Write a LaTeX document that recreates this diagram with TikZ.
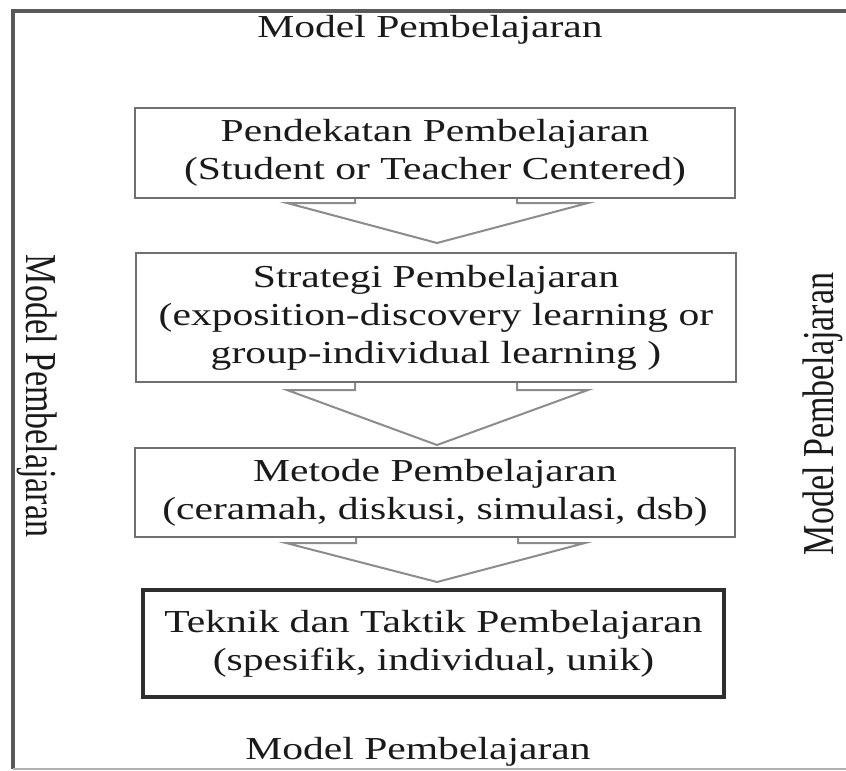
\documentclass[tikz,border=0pt]{standalone}
\usepackage{fontspec}
\setmainfont{Liberation Serif}[FakeStretch=1.3]
\newfontfamily\vfont{Liberation Serif}
\usetikzlibrary{calc}
\definecolor{framecol}{HTML}{5A5A5A}
\definecolor{boxgray}{HTML}{707070}
\definecolor{arrgray}{HTML}{8C8C8C}
\definecolor{darkbox}{HTML}{2E2E2E}
\definecolor{lightline}{HTML}{B0B0B0}
\definecolor{txt}{HTML}{1A1A1A}
\newcommand\btxt{\fontsize{32}{38}\selectfont}
\newcommand\vtxt{\vfont\fontsize{34}{40}\selectfont}
\begin{document}
\begin{tikzpicture}[x=1pt,y=-1pt,
  box/.style={draw=boxgray, line width=2.5pt, minimum width=600pt, align=center,
    inner sep=0pt, outer sep=0pt, font=\btxt, text=txt},
  lastbox/.style={box, draw=darkbox, line width=4pt},
  blockarr/.style={draw=arrgray, line width=2pt, line join=miter},
  label/.style={font=\btxt, text=txt, anchor=base, inner sep=0pt},
  vlabel/.style={font=\vtxt, text=txt, anchor=base, inner sep=0pt}]
\useasboundingbox (0,0) rectangle (846,771);
\fill[white] (0,0) rectangle (846,771);
% outer frame
\draw[framecol, line width=4pt] (13,769) -- (13,11) -- (846,11);
\draw[lightline, line width=2pt] (13,769) -- (846,769);
% labels
\node[label] (top) at (430,37) {Model Pembelajaran};
\node[label] (bottom) at (418,759) {Model Pembelajaran};
\node[vlabel, rotate=-90] (left) at (27,396) {\scalebox{1}[1.3]{Model Pembelajaran}};
\node[vlabel, rotate=90] (right) at (833,414) {\scalebox{1}[1.3]{Model Pembelajaran}};
% boxes
\node[box, minimum height=90pt] (b1) at (435,153) {Pendekatan Pembelajaran\\(Student or Teacher Centered)};
\node[box, minimum height=129pt] (b2) at (436,317.5) {Strategi Pembelajaran\\(exposition-discovery learning or\\group-individual learning )};
\node[box, minimum height=89pt] (b3) at (435,492.5) {Metode Pembelajaran\\(ceramah, diskusi, simulasi, dsb)};
\node[lastbox, minimum width=581pt, minimum height=107pt] (b4) at (433.5,643.5) {Teknik dan Taktik Pembelajaran\\(spesifik, individual, unik)};
% block arrows
\draw[blockarr] ($(b1.south)+(-80,1)$) -- ++(0,4) -- ++(-68,0) -- ($(b2.north)+(1,-10)$)
  -- ($(b1.south)+(153,5)$) -- ++(-71,0) -- ++(0,-4);
\draw[blockarr] ($(b2.south)+(-81,1)$) -- ++(0,7) -- ++(-68,0) -- ($(b3.north)+(2,-3)$)
  -- ($(b2.south)+(152,8)$) -- ++(-71,0) -- ++(0,-7);
\draw[blockarr] ($(b3.south)+(-79,1)$) -- ++(0,5) -- ++(-70,0) -- ($(b4.north)+(3.5,-8)$)
  -- ($(b3.south)+(150,6)$) -- ++(-67,0) -- ++(0,-5);
\end{tikzpicture}
\end{document}
